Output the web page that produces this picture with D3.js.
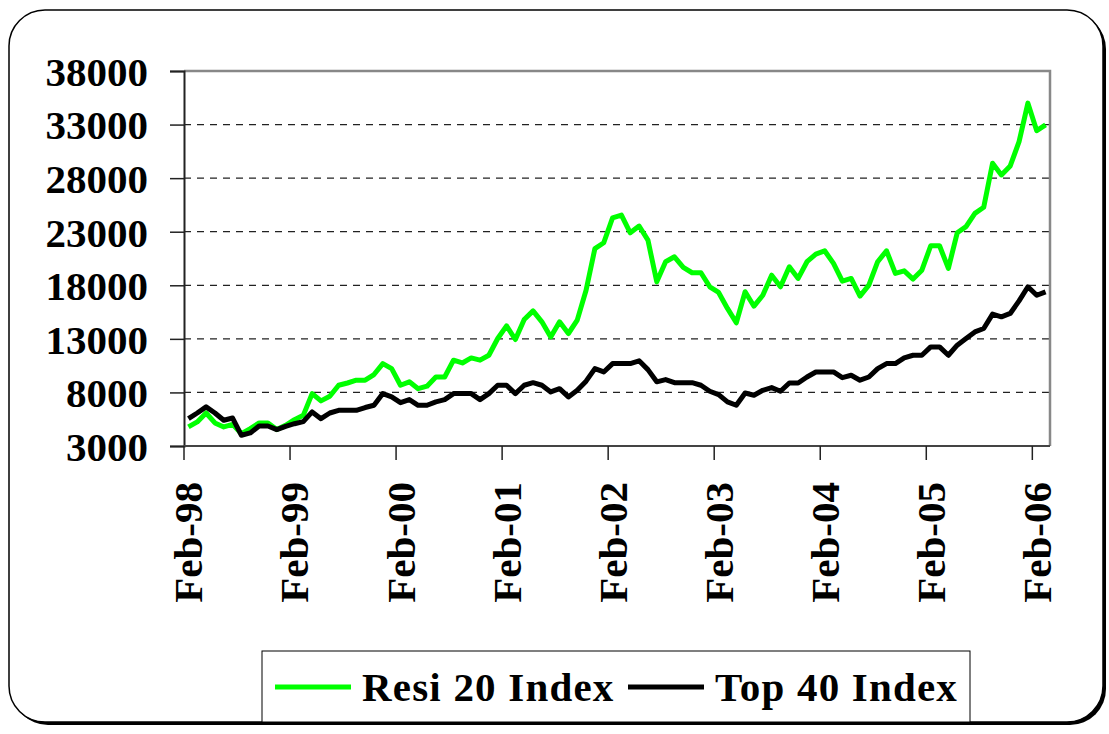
<!DOCTYPE html>
<html>
<head>
<meta charset="utf-8">
<script src="https://cdn.jsdelivr.net/npm/d3@7"></script>
<style>
  body { margin: 0; background: #fff; }
  text { font-family: "Liberation Serif", "Times New Roman", serif; font-weight: bold; }
</style>
</head>
<body>
<svg></svg>
<script>
// Month categories Feb-98 .. Mar-06
const months = d3.timeMonth.range(new Date(1998, 1, 1), new Date(2006, 3, 1))
const tickLabels = ['Feb-98', 'Feb-99', 'Feb-00', 'Feb-01', 'Feb-02', 'Feb-03', 'Feb-04', 'Feb-05', 'Feb-06']
const yTicks = [3000, 8000, 13000, 18000, 23000, 28000, 33000, 38000]

const resi20 = [
  4780, 5250, 6080, 5150, 4780, 5020, 4150, 4620, 5150, 5150, 4530, 4930,
  5460, 5860, 7890, 7210, 7640, 8670, 8880, 9140, 9140, 9670, 10690, 10220,
  8670, 8990, 8350, 8580, 9440, 9440, 11010, 10750, 11220, 11010, 11470, 13030,
  14210, 12940, 14810, 15610, 14590, 13180, 14590, 13500, 14750, 17540, 21430, 21970,
  24300, 24550, 22900, 23530, 22220, 18320, 20200, 20660, 19670, 19170, 19170, 17860,
  17330, 15840, 14500, 17400, 16050, 17070, 18940, 17860, 19730, 18640, 20200, 20910,
  21220, 20040, 18390, 18640, 16990, 18010, 20200, 21220, 19110, 19350, 18580, 19410,
  21690, 21690, 19580, 22900, 23470, 24710, 25280, 29390, 28300, 29140, 31410, 35000,
  32430, 32970
]
const top40 = [
  5550, 6080, 6650, 6080, 5400, 5610, 4000, 4220, 4870, 4870, 4530, 4840,
  5080, 5280, 6180, 5550, 6080, 6330, 6330, 6330, 6590, 6800, 7890, 7580,
  7040, 7330, 6800, 6800, 7120, 7330, 7890, 7890, 7890, 7330, 7890, 8670,
  8670, 7890, 8670, 8910, 8670, 8050, 8350, 7580, 8200, 9050, 10220, 9910,
  10690, 10690, 10690, 10950, 10130, 8990, 9200, 8910, 8910, 8910, 8670, 8110,
  7800, 7120, 6800, 7950, 7740, 8200, 8450, 8110, 8880, 8880, 9440, 9910,
  9910, 9910, 9380, 9600, 9140, 9440, 10220, 10690, 10690, 11220, 11470, 11470,
  12250, 12250, 11470, 12410, 13030, 13650, 13970, 15310, 15060, 15370, 16550, 17860,
  17070, 17390
]

let width = 1109
let height = 734
let plotLeft = 184, plotRight = 1050, plotTop = 71, plotBottom = 446

let svg = d3.select('svg').attr('width', width).attr('height', height)

// Outer rounded frame with shadow
svg.append('rect')
  .attr('x', 12).attr('y', 13).attr('width', 1094).attr('height', 712)
  .attr('rx', 36).attr('ry', 36)
  .attr('fill', '#000')
svg.append('rect')
  .attr('x', 9).attr('y', 10).attr('width', 1094).attr('height', 712)
  .attr('rx', 36).attr('ry', 36)
  .attr('fill', '#fff').attr('stroke', '#000').attr('stroke-width', 1.5)

// Scales
let xScale = d3.scaleBand()
  .domain(months)
  .range([plotLeft, plotRight])
let yScale = d3.scaleLinear()
  .domain([3000, 38000])
  .range([plotBottom, plotTop])

let cx = (i) => xScale(months[i]) + xScale.bandwidth() / 2

// Gridlines
svg.append('g')
  .selectAll('line')
  .data(yTicks.filter(v => v > 3000 && v < 38000))
  .enter()
  .append('line')
  .attr('x1', plotLeft).attr('x2', plotRight)
  .attr('y1', d => yScale(d)).attr('y2', d => yScale(d))
  .attr('stroke', '#222')
  .attr('stroke-width', 1.2)
  .attr('stroke-dasharray', '7,6')

// Plot border top/right
svg.append('path')
  .attr('d', `M${plotLeft},${plotTop}H${plotRight}V${plotBottom}`)
  .attr('fill', 'none')
  .attr('stroke', '#888')
  .attr('stroke-width', 2.5)

// Y axis
let yAxis = d3.axisLeft(yScale)
  .tickValues(yTicks)
  .tickFormat(d3.format('d'))
  .tickSize(14)
  .tickPadding(22)
let gy = svg.append('g')
  .attr('transform', 'translate(' + plotLeft + ',0)')
  .call(yAxis)
gy.select('.domain').attr('stroke', '#222').attr('stroke-width', 2)
gy.selectAll('.tick line').attr('stroke', '#222').attr('stroke-width', 1.5)
gy.selectAll('text')
  .style('font-size', '41px')
  .attr('fill', '#000')
  .attr('dy', '0.35em')

// X axis: ticks at category boundaries every 12 months, labels centered
let febs = months.filter(d => d.getMonth() === 1)
svg.append('line')
  .attr('x1', plotLeft).attr('x2', plotRight)
  .attr('y1', plotBottom).attr('y2', plotBottom)
  .attr('stroke', '#444').attr('stroke-width', 2)
svg.append('g')
  .selectAll('line')
  .data(febs)
  .enter()
  .append('line')
  .attr('x1', d => xScale(d)).attr('x2', d => xScale(d))
  .attr('y1', plotBottom).attr('y2', plotBottom + 14)
  .attr('stroke', '#222').attr('stroke-width', 1.5)

svg.append('g')
  .selectAll('text')
  .data(febs)
  .enter()
  .append('text')
  .attr('transform', (d, i) => 'translate(' + (xScale(d) + xScale.bandwidth() / 2 + 14) + ',' + 482 + ') rotate(-90)')
  .attr('text-anchor', 'end')
  .style('font-size', '41px')
  .text((d, i) => tickLabels[i])

// Lines
let line = (vals) => d3.line()
  .x((d, i) => cx(i))
  .y(d => yScale(d))(vals)

svg.append('path')
  .attr('d', line(resi20))
  .attr('fill', 'none')
  .attr('stroke', '#00ff00')
  .attr('stroke-width', 5)
  .attr('stroke-linejoin', 'round')

svg.append('path')
  .attr('d', line(top40))
  .attr('fill', 'none')
  .attr('stroke', '#000')
  .attr('stroke-width', 5)
  .attr('stroke-linejoin', 'round')

// Legend
let legend = svg.append('g')
legend.append('rect')
  .attr('x', 262).attr('y', 651).attr('width', 708).attr('height', 71)
  .attr('fill', '#fff').attr('stroke', '#000').attr('stroke-width', 1)
let items = [
  { name: 'Resi 20 Index', color: '#00ff00', x: 275 },
  { name: 'Top 40 Index', color: '#000', x: 628 }
]
items.forEach(it => {
  legend.append('line')
    .attr('x1', it.x).attr('x2', it.x + 76)
    .attr('y1', 687).attr('y2', 687)
    .attr('stroke', it.color).attr('stroke-width', 5)
  legend.append('text')
    .attr('x', it.x + 87).attr('y', 701)
    .style('font-size', '41px')
    .style('letter-spacing', '1.2px')
    .text(it.name)
})
</script>
</body>
</html>
